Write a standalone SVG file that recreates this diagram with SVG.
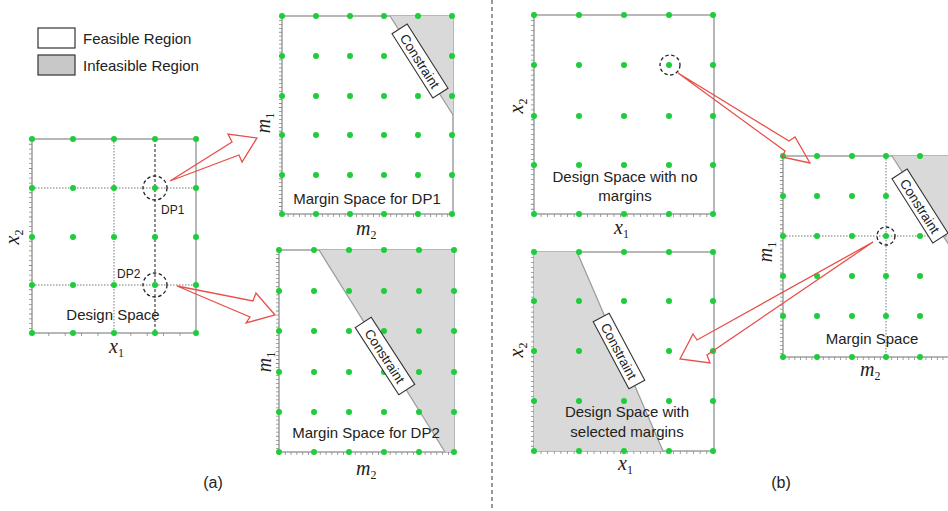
<svg xmlns="http://www.w3.org/2000/svg" xmlns:xlink="http://www.w3.org/1999/xlink" width="948" height="511" viewBox="0 0 948 511">
<defs>
<style>
.box{fill:#fff;stroke:#999;stroke-width:1.4}
.shade{fill:#d9d9d9;stroke:none}
.edge{stroke:#999;stroke-width:1.2;fill:none}
.grid{stroke:#777;stroke-width:1;stroke-dasharray:1.5 1.5;fill:none}
.gridd{stroke:#333;stroke-width:1.1;stroke-dasharray:3 2;fill:none}
.tick{stroke:#888;stroke-width:3;fill:none}
.d{fill:#1fcc3a}
.circ{fill:none;stroke:#222;stroke-width:1.3;stroke-dasharray:3.5 2.5}
.lbl{font-family:"Liberation Sans",Arial,sans-serif;font-size:15px;fill:#222}
.small{font-family:"Liberation Sans",Arial,sans-serif;font-size:12px;fill:#222}
.ax{font-family:"Liberation Serif","Times New Roman",serif;font-style:italic;font-size:20px;fill:#222}
.sub{font-style:normal;font-size:12px}
.cbox{fill:#fff;stroke:#333;stroke-width:1.1}
.ctext{font-family:"Liberation Sans",Arial,sans-serif;font-size:13.5px;fill:#222}
.arrow{fill:none;stroke:#e8504a;stroke-width:1.3;stroke-linejoin:miter}
</style>
<circle id="dot" r="3" class="d"/>
</defs>
<rect width="948" height="511" fill="#fff"/>

<!-- divider -->
<line x1="492" y1="0" x2="492" y2="511" stroke="#555" stroke-width="1.2" stroke-dasharray="4 3"/>

<!-- legend -->
<g id="legend">
<rect x="38" y="28" width="37" height="20" fill="#fff" stroke="#333" stroke-width="1.2"/>
<rect x="38" y="55" width="37" height="20" fill="#c8c8c8" stroke="#333" stroke-width="1.2"/>
<text class="lbl" x="83" y="44">Feasible Region</text>
<text class="lbl" x="83" y="71">Infeasible Region</text>
</g>

<!-- (a) Design Space -->
<g id="design-space-a">
<rect class="box" x="32" y="139" width="164" height="194"/>
<path class="grid" d="M32 188H196M32 285H196M114 139V333"/>
<path class="gridd" d="M155 139V333"/>
<line class="tick" x1="30.5" y1="139" x2="30.5" y2="333" stroke-dasharray="0.8 4.05"/>
<line class="tick" x1="32" y1="334.5" x2="197" y2="334.5" stroke-dasharray="0.8 15.6"/>
<g>
<use href="#dot" x="32" y="139"/><use href="#dot" x="73" y="139"/><use href="#dot" x="114" y="139"/><use href="#dot" x="155" y="139"/><use href="#dot" x="196" y="139"/>
<use href="#dot" x="32" y="188"/><use href="#dot" x="73" y="188"/><use href="#dot" x="114" y="188"/><use href="#dot" x="155" y="188"/><use href="#dot" x="196" y="188"/>
<use href="#dot" x="32" y="237"/><use href="#dot" x="73" y="237"/><use href="#dot" x="114" y="237"/><use href="#dot" x="155" y="237"/><use href="#dot" x="196" y="237"/>
<use href="#dot" x="32" y="285"/><use href="#dot" x="73" y="285"/><use href="#dot" x="114" y="285"/><use href="#dot" x="155" y="285"/><use href="#dot" x="196" y="285"/>
<use href="#dot" x="32" y="333"/><use href="#dot" x="73" y="333"/><use href="#dot" x="114" y="333"/><use href="#dot" x="155" y="333"/><use href="#dot" x="196" y="333"/>
</g>
<circle class="circ" cx="155" cy="188" r="12"/>
<circle class="circ" cx="155" cy="285" r="12"/>
<text class="small" x="161" y="214">DP1</text>
<text class="small" x="117" y="278">DP2</text>
<text class="lbl" x="113" y="320" text-anchor="middle">Design Space</text>
<text class="ax" x="109" y="353">x<tspan class="sub" dy="4">1</tspan></text>
<text class="ax" transform="rotate(-90 19 237)" x="19" y="237" text-anchor="middle">x<tspan class="sub" dy="4">2</tspan></text>
</g>

<!-- Margin Space DP1 -->
<g id="margin-dp1">
<rect class="box" x="282" y="16" width="171" height="198"/>
<polygon class="shade" points="390,16 453,16 453,115"/>
<line class="edge" x1="390" y1="16" x2="453" y2="115"/>
<line class="tick" x1="280.5" y1="16" x2="280.5" y2="214" stroke-dasharray="0.8 3.16"/>
<line class="tick" x1="282" y1="215.5" x2="453" y2="215.5" stroke-dasharray="0.8 4.9"/>
<g>
<use href="#dot" x="282" y="16"/><use href="#dot" x="316" y="16"/><use href="#dot" x="350" y="16"/><use href="#dot" x="384" y="16"/><use href="#dot" x="418" y="16"/><use href="#dot" x="452" y="16"/>
<use href="#dot" x="282" y="56"/><use href="#dot" x="316" y="56"/><use href="#dot" x="350" y="56"/><use href="#dot" x="384" y="56"/><use href="#dot" x="418" y="56"/><use href="#dot" x="452" y="56"/>
<use href="#dot" x="282" y="96"/><use href="#dot" x="316" y="96"/><use href="#dot" x="350" y="96"/><use href="#dot" x="384" y="96"/><use href="#dot" x="418" y="96"/><use href="#dot" x="452" y="96"/>
<use href="#dot" x="282" y="135"/><use href="#dot" x="316" y="135"/><use href="#dot" x="350" y="135"/><use href="#dot" x="384" y="135"/><use href="#dot" x="418" y="135"/><use href="#dot" x="452" y="135"/>
<use href="#dot" x="282" y="175"/><use href="#dot" x="316" y="175"/><use href="#dot" x="350" y="175"/><use href="#dot" x="384" y="175"/><use href="#dot" x="418" y="175"/><use href="#dot" x="452" y="175"/>
<use href="#dot" x="282" y="214"/><use href="#dot" x="316" y="214"/><use href="#dot" x="350" y="214"/><use href="#dot" x="384" y="214"/><use href="#dot" x="418" y="214"/><use href="#dot" x="452" y="214"/>
</g>
<g transform="translate(420 61) rotate(57.5)">
<rect class="cbox" x="-38" y="-9" width="76" height="18"/>
<text class="ctext" x="0" y="5" text-anchor="middle">Constraint</text>
</g>
<text class="lbl" x="367" y="204" text-anchor="middle">Margin Space for DP1</text>
<text class="ax" x="356" y="235">m<tspan class="sub" dy="4">2</tspan></text>
<text class="ax" transform="rotate(-90 270 123)" x="270" y="123" text-anchor="middle">m<tspan class="sub" dy="4">1</tspan></text>
</g>

<!-- Margin Space DP2 -->
<g id="margin-dp2">
<rect class="box" x="279" y="250" width="175" height="202"/>
<polygon class="shade" points="319,250 454,250 454,452 445,452"/>
<line class="edge" x1="319" y1="250" x2="445" y2="452"/>
<line class="tick" x1="277.5" y1="250" x2="277.5" y2="452" stroke-dasharray="0.8 3.24"/>
<line class="tick" x1="279" y1="453.5" x2="454" y2="453.5" stroke-dasharray="0.8 5.03"/>
<g>
<use href="#dot" x="279" y="250"/><use href="#dot" x="314" y="250"/><use href="#dot" x="349" y="250"/><use href="#dot" x="384" y="250"/><use href="#dot" x="419" y="250"/><use href="#dot" x="454" y="250"/>
<use href="#dot" x="279" y="291"/><use href="#dot" x="314" y="291"/><use href="#dot" x="349" y="291"/><use href="#dot" x="384" y="291"/><use href="#dot" x="419" y="291"/><use href="#dot" x="454" y="291"/>
<use href="#dot" x="279" y="331"/><use href="#dot" x="314" y="331"/><use href="#dot" x="349" y="331"/><use href="#dot" x="384" y="331"/><use href="#dot" x="419" y="331"/><use href="#dot" x="454" y="331"/>
<use href="#dot" x="279" y="372"/><use href="#dot" x="314" y="372"/><use href="#dot" x="349" y="372"/><use href="#dot" x="384" y="372"/><use href="#dot" x="419" y="372"/><use href="#dot" x="454" y="372"/>
<use href="#dot" x="279" y="412"/><use href="#dot" x="314" y="412"/><use href="#dot" x="349" y="412"/><use href="#dot" x="384" y="412"/><use href="#dot" x="419" y="412"/><use href="#dot" x="454" y="412"/>
<use href="#dot" x="279" y="452"/><use href="#dot" x="314" y="452"/><use href="#dot" x="349" y="452"/><use href="#dot" x="384" y="452"/><use href="#dot" x="419" y="452"/><use href="#dot" x="454" y="452"/>
</g>
<g transform="translate(385 356) rotate(57)">
<rect class="cbox" x="-40" y="-9.5" width="80" height="19"/>
<text class="ctext" x="0" y="5" text-anchor="middle">Constraint</text>
</g>
<text class="lbl" x="366" y="438" text-anchor="middle">Margin Space for DP2</text>
<text class="ax" x="356" y="475">m<tspan class="sub" dy="4">2</tspan></text>
<text class="ax" transform="rotate(-90 271 362)" x="271" y="362" text-anchor="middle">m<tspan class="sub" dy="4">1</tspan></text>
</g>

<!-- (b) Design Space with no margins -->
<g id="design-no-margins">
<rect class="box" x="534" y="15" width="180" height="199"/>
<line class="tick" x1="532.5" y1="15" x2="532.5" y2="214" stroke-dasharray="0.8 4.17"/>
<line class="tick" x1="534" y1="215.5" x2="714" y2="215.5" stroke-dasharray="0.8 5.83"/>
<g>
<use href="#dot" x="534" y="15"/><use href="#dot" x="579" y="15"/><use href="#dot" x="624" y="15"/><use href="#dot" x="669" y="15"/><use href="#dot" x="713" y="15"/>
<use href="#dot" x="534" y="65"/><use href="#dot" x="579" y="65"/><use href="#dot" x="624" y="65"/><use href="#dot" x="669" y="65"/><use href="#dot" x="713" y="65"/>
<use href="#dot" x="534" y="116"/><use href="#dot" x="579" y="116"/><use href="#dot" x="624" y="116"/><use href="#dot" x="669" y="116"/><use href="#dot" x="713" y="116"/>
<use href="#dot" x="534" y="165"/><use href="#dot" x="579" y="165"/><use href="#dot" x="624" y="165"/><use href="#dot" x="669" y="165"/><use href="#dot" x="713" y="165"/>
<use href="#dot" x="534" y="214"/><use href="#dot" x="579" y="214"/><use href="#dot" x="624" y="214"/><use href="#dot" x="669" y="214"/><use href="#dot" x="713" y="214"/>
</g>
<circle class="circ" cx="670" cy="65" r="10"/>
<text class="lbl" x="625" y="182" text-anchor="middle">Design Space with no</text>
<text class="lbl" x="625" y="201" text-anchor="middle">margins</text>
<text class="ax" x="614" y="234">x<tspan class="sub" dy="4">1</tspan></text>
<text class="ax" transform="rotate(-90 523 106)" x="523" y="106" text-anchor="middle">x<tspan class="sub" dy="4">2</tspan></text>
</g>

<!-- (b) Design Space with selected margins -->
<g id="design-selected-margins">
<rect class="box" x="534" y="252" width="180" height="199"/>
<polygon class="shade" points="534,252 577,252 663,451 534,451"/>
<line class="edge" x1="577" y1="252" x2="663" y2="451"/>
<line class="tick" x1="532.5" y1="252" x2="532.5" y2="451" stroke-dasharray="0.8 4.17"/>
<line class="tick" x1="534" y1="452.5" x2="714" y2="452.5" stroke-dasharray="0.8 5.83"/>
<g>
<use href="#dot" x="534" y="252"/><use href="#dot" x="579" y="252"/><use href="#dot" x="624" y="252"/><use href="#dot" x="669" y="252"/><use href="#dot" x="713" y="252"/>
<use href="#dot" x="534" y="301"/><use href="#dot" x="579" y="301"/><use href="#dot" x="624" y="301"/><use href="#dot" x="669" y="301"/><use href="#dot" x="713" y="301"/>
<use href="#dot" x="534" y="351"/><use href="#dot" x="579" y="351"/><use href="#dot" x="624" y="351"/><use href="#dot" x="669" y="351"/><use href="#dot" x="713" y="351"/>
<use href="#dot" x="534" y="401"/><use href="#dot" x="579" y="401"/><use href="#dot" x="624" y="401"/><use href="#dot" x="669" y="401"/><use href="#dot" x="713" y="401"/>
<use href="#dot" x="534" y="451"/><use href="#dot" x="579" y="451"/><use href="#dot" x="624" y="451"/><use href="#dot" x="669" y="451"/><use href="#dot" x="713" y="451"/>
</g>
<g transform="translate(619 351) rotate(62)">
<rect class="cbox" x="-38" y="-9" width="76" height="18"/>
<text class="ctext" x="0" y="5" text-anchor="middle">Constraint</text>
</g>
<text class="lbl" x="627" y="417" text-anchor="middle">Design Space with</text>
<text class="lbl" x="627" y="437" text-anchor="middle">selected margins</text>
<text class="ax" x="618" y="470">x<tspan class="sub" dy="4">1</tspan></text>
<text class="ax" transform="rotate(-90 523 350)" x="523" y="350" text-anchor="middle">x<tspan class="sub" dy="4">2</tspan></text>
</g>

<!-- (b) Margin Space -->
<g id="margin-space-b">
<rect class="box" x="783" y="156" width="180" height="201"/>
<polygon class="shade" points="892,156 960,156 960,262"/>
<line class="edge" x1="892" y1="156" x2="960" y2="262"/>
<path class="grid" d="M783 236H948M886 156V357"/>
<line class="tick" x1="781.5" y1="156" x2="781.5" y2="357" stroke-dasharray="0.8 3.22"/>
<line class="tick" x1="783" y1="358.5" x2="948" y2="358.5" stroke-dasharray="0.8 4.9"/>
<g>
<use href="#dot" x="783" y="156"/><use href="#dot" x="817" y="156"/><use href="#dot" x="852" y="156"/><use href="#dot" x="886" y="156"/><use href="#dot" x="920" y="156"/>
<use href="#dot" x="783" y="196"/><use href="#dot" x="817" y="196"/><use href="#dot" x="852" y="196"/><use href="#dot" x="886" y="196"/><use href="#dot" x="920" y="196"/>
<use href="#dot" x="783" y="236"/><use href="#dot" x="817" y="236"/><use href="#dot" x="852" y="236"/><use href="#dot" x="886" y="236"/><use href="#dot" x="920" y="236"/>
<use href="#dot" x="783" y="276"/><use href="#dot" x="817" y="276"/><use href="#dot" x="852" y="276"/><use href="#dot" x="886" y="276"/><use href="#dot" x="920" y="276"/>
<use href="#dot" x="783" y="316"/><use href="#dot" x="817" y="316"/><use href="#dot" x="852" y="316"/><use href="#dot" x="886" y="316"/><use href="#dot" x="920" y="316"/>
<use href="#dot" x="783" y="357"/><use href="#dot" x="817" y="357"/><use href="#dot" x="852" y="357"/><use href="#dot" x="886" y="357"/><use href="#dot" x="920" y="357"/>
</g>
<circle class="circ" cx="886" cy="236" r="9"/>
<g transform="translate(920 206) rotate(57.5)">
<rect class="cbox" x="-38" y="-9" width="76" height="18"/>
<text class="ctext" x="0" y="5" text-anchor="middle">Constraint</text>
</g>
<text class="lbl" x="872" y="344" text-anchor="middle">Margin Space</text>
<text class="ax" x="860" y="376">m<tspan class="sub" dy="4">2</tspan></text>
<text class="ax" transform="rotate(-90 772 252)" x="772" y="252" text-anchor="middle">m<tspan class="sub" dy="4">1</tspan></text>
</g>

<!-- captions -->
<text class="lbl" style="font-size:16px" x="213" y="488" text-anchor="middle">(a)</text>
<text class="lbl" style="font-size:16px" x="781" y="488" text-anchor="middle">(b)</text>

<!-- connectors -->
<g id="connectors">
<polygon class="arrow" points="170,181 232,142 228,134 257,138 242,162 239,155"/>
<polygon class="arrow" points="177,286 253,301 256,293 275,315 246,323 250,317"/>
<polygon class="arrow" points="678,73 789,141 795,137 810,163 782,157 785,151"/>
<polygon class="arrow" points="873,242 697,340 693,334 680,359 710,363 707,355"/>
</g>
</svg>
